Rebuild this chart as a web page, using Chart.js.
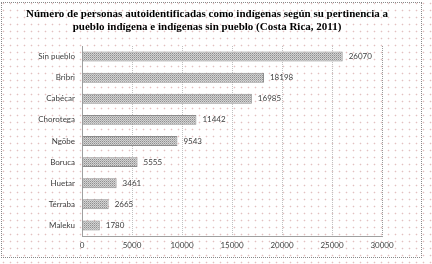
<!DOCTYPE html>
<html>
<head>
<meta charset="utf-8">
<script src="https://cdn.jsdelivr.net/npm/chart.js@4.4.0/dist/chart.umd.min.js"></script>
<style>
  html, body { margin: 0; padding: 0; background: #fff; }
  body {
    width: 432px; height: 264px; position: relative; overflow: hidden;
    background-image: radial-gradient(circle, #e2c0c0 0.7px, transparent 1.1px);
    background-size: 7px 7px;
  }
  #box {
    position: absolute; left: 1px; top: 2px; width: 419px; height: 254px;
    border: 1px dotted #8a8a8a;
  }
  canvas { display: block; }
</style>
</head>
<body>
<div id="box"><canvas id="chart" width="419" height="254"></canvas></div>
<script>
// values (personas)
let pueblos = ['Sin pueblo', 'Bribri', 'Cabécar', 'Chorotega', 'Ngöbe', 'Boruca', 'Huetar', 'Térraba', 'Maleku']
let personas = [26070, 18198, 16985, 11442, 9543, 5555, 3461, 2665, 1780]
let titleLines = [
    'Número de personas autoidentificadas como indígenas según su pertinencia a',
    'pueblo indígena e indígenas sin pueblo (Costa Rica, 2011)'
]

// small dotted pattern for the bars
function makePattern() {
    let c = document.createElement('canvas');
    c.width = 2; c.height = 2;
    let g = c.getContext('2d');
    g.fillStyle = '#d2d2d2';
    g.fillRect(0, 0, 2, 2);
    g.fillStyle = '#8e8e8e';
    g.fillRect(0, 0, 1, 1);
    g.fillStyle = '#b0b0b0';
    g.fillRect(1, 1, 1, 1);
    return g.createPattern(c, 'repeat');
}

// title drawn by hand so it stays centred on the whole box
const boxTitle = {
    id: 'boxTitle',
    afterDraw(chart) {
        let ctx = chart.ctx;
        ctx.save();
        ctx.font = 'bold 11px "Liberation Serif"';
        ctx.fillStyle = '#000';
        ctx.textAlign = 'center';
        ctx.textBaseline = 'middle';
        titleLines.forEach((t, i) => ctx.fillText(t, 205, 11 + i * 13));
        ctx.restore();
    }
};

// value labels at the end of each bar
const valueLabels = {
    id: 'valueLabels',
    afterDatasetsDraw(chart) {
        let ctx = chart.ctx;
        ctx.save();
        ctx.font = '8px Lato';
        ctx.fillStyle = '#404040';
        ctx.textBaseline = 'middle';
        chart.getDatasetMeta(0).data.forEach((bar, i) => {
            ctx.fillText(String(personas[i]), bar.x + 6, bar.y);
        });
        ctx.restore();
    }
};

let ctx = document.getElementById('chart');
let globalChart = new Chart(ctx, {
    type: 'bar',
    data: {
        labels: pueblos,
        datasets: [{
            data: personas,
            backgroundColor: makePattern(),
            borderColor: '#8c8c8c',
            borderWidth: 1,
            borderSkipped: false,
            barPercentage: 0.47,
            categoryPercentage: 1
        }]
    },
    options: {
        indexAxis: 'y',
        responsive: false,
        animation: false,
        layout: { padding: { left: 0, right: 39, top: 43, bottom: 0 } },
        plugins: {
            legend: { display: false },
            tooltip: { enabled: false },
            title: { display: false }
        },
        scales: {
            x: {
                min: 0,
                max: 30000,
                ticks: {
                    stepSize: 5000,
                    color: '#404040',
                    font: { family: 'Lato', size: 8 },
                    padding: 5,
                    maxRotation: 0,
                    callback: (v) => String(v)
                },
                grid: {
                    color: (c) => c.tick && c.tick.value === 30000 ? '#9a9a9a' : '#c0c0c0',
                    drawTicks: false
                },
                border: { color: '#a0a0a0', dash: [1, 1] },
                afterFit: (s) => { s.height = 21; }
            },
            y: {
                ticks: {
                    color: '#404040',
                    font: { family: 'Lato', size: 8 },
                    padding: 7
                },
                grid: { display: false, drawTicks: false },
                border: { color: '#a0a0a0', dash: [1, 1] },
                afterFit: (s) => { s.width = 80; }
            }
        }
    },
    plugins: [valueLabels, boxTitle]
});
</script>
</body>
</html>
